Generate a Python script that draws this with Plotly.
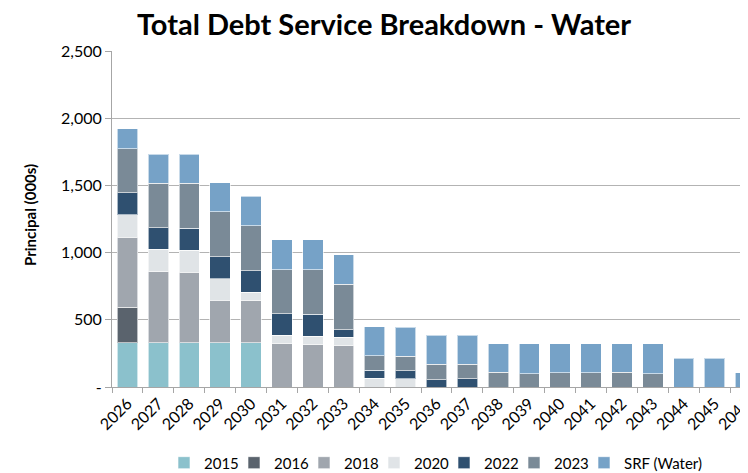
import plotly.graph_objects as go

years = [str(y) for y in range(2026, 2047)]

s2015 = [330, 330, 330, 330, 330, 0, 0, 0, 0, 0, 0, 0, 0, 0, 0, 0, 0, 0, 0, 0, 0]
s2016 = [263, 0, 0, 0, 0, 0, 0, 0, 0, 0, 0, 0, 0, 0, 0, 0, 0, 0, 0, 0, 0]
s2018 = [521, 528, 523, 315, 312, 322, 315, 307, 0, 0, 0, 0, 0, 0, 0, 0, 0, 0, 0, 0, 0]
s2020 = [168, 166, 166, 161, 62, 63, 62, 65, 65, 60, 0, 0, 0, 0, 0, 0, 0, 0, 0, 0, 0]
s2022 = [164, 161, 164, 163, 161, 160, 164, 54, 59, 61, 54, 60, 0, 0, 0, 0, 0, 0, 0, 0, 0]
s2023 = [327, 330, 332, 335, 335, 328, 332, 338, 109, 107, 115, 109, 109, 99, 106, 106, 109, 99, 0, 0, 0]
srf = [147, 218, 215, 216, 219, 221, 221, 220, 216, 216, 216, 216, 213, 221, 214, 216, 213, 221, 213, 213, 106]

series = [
    ("2015", s2015, "#8BC1CC"),
    ("2016", s2016, "#5A636D"),
    ("2018", s2018, "#A0A6AE"),
    ("2020", s2020, "#E0E4E7"),
    ("2022", s2022, "#2F5070"),
    ("2023", s2023, "#7A8A97"),
    ("SRF (Water)", srf, "#76A2C7"),
]

ytick_vals = [0, 500, 1000, 1500, 2000, 2500]
ytick_text = ["-", "500", "1,000", "1,500", "2,000", "2,500"]

fig = go.Figure()
for name, vals, col in series:
    fig.add_trace(go.Bar(
        x=years, y=vals, name=name,
        marker=dict(color=col, line=dict(color="rgba(255,255,255,0.6)", width=1)),
        legendwidth=(95 if name.startswith("SRF") else 25),
    ))

FONT = "Lato"
# page body has an 8px default margin, so the figure is 8px smaller in each direction
W, H = 740, 465
fig.update_layout(
    barmode="stack",
    bargap=0.34,
    width=W, height=H,
    margin=dict(l=104, r=0, t=43, b=86, autoexpand=False),
    paper_bgcolor="white", plot_bgcolor="white",
    font=dict(family=FONT, size=16, color="#000000"),
    title=dict(text="<b>Total Debt Service Breakdown - Water</b>",
               x=(384 - 8) / W, xref="container", xanchor="center",
               y=1 - (25 - 8) / H, yref="container", yanchor="middle",
               font=dict(family=FONT, size=29, color="#000000")),
    xaxis=dict(
        type="category", range=[-0.5, 20.08],
        tickangle=-45, tickson="boundaries", ticks="outside", ticklen=5,
        tickcolor="#A6A6A6", showline=True, linecolor="#A6A6A6", linewidth=1,
        showgrid=False, tickfont=dict(size=16),
    ),
    yaxis=dict(
        range=[0, 2500], tickvals=ytick_vals, ticktext=ytick_text,
        ticks="outside", ticklen=6, tickcolor="#A6A6A6",
        showline=True, linecolor="#A6A6A6", linewidth=1,
        showgrid=True, gridcolor="#B3B3B3", gridwidth=1,
        tickfont=dict(size=16), zeroline=False,
    ),
    legend=dict(
        orientation="h", traceorder="normal",
        x=(184 - 20 - 112) / 636, xanchor="left", xref="paper",
        y=-0.226, yanchor="middle",
        font=dict(size=15), entrywidth=25, entrywidthmode="pixels",
        itemclick=False,
    ),
    annotations=[dict(
        text="<b>Principal (000s)</b>", textangle=-90,
        xref="paper", yref="paper", x=(30 - 112) / 636, y=(387 - 215) / 336,
        xanchor="center", yanchor="middle", showarrow=False,
        font=dict(family=FONT, size=15, color="#000000"),
    )],
)

fig.write_html("out.html")
